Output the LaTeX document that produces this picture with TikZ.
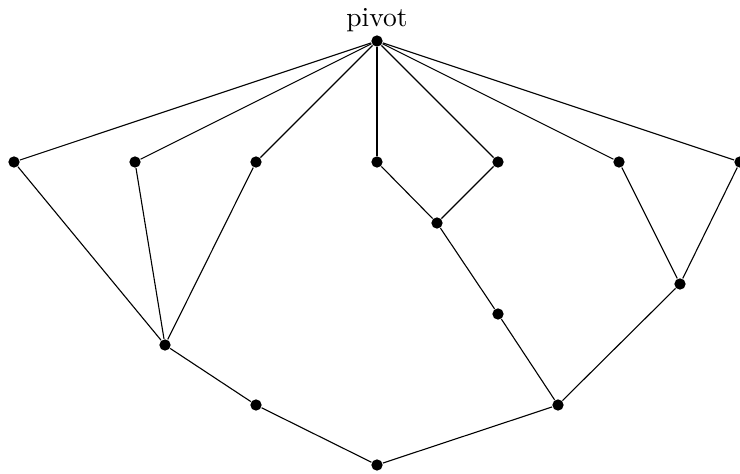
\documentclass[tikz,border=0pt]{standalone}
\begin{document}
\begin{tikzpicture}[x=0.363pt,y=-0.363pt,
  dot/.style={circle,fill=black,inner sep=0pt,minimum size=4.1pt},
  edge/.style={line width=0.4pt}]
\useasboundingbox (0,0) rectangle (740,474);
\node[dot,label={[inner sep=1pt]above:pivot}] (p) at (377,41) {};
\node[dot] (t1) at (14,162) {};
\node[dot] (t2) at (135,162) {};
\node[dot] (t3) at (256,162) {};
\node[dot] (t4) at (377,162) {};
\node[dot] (t5) at (498,162) {};
\node[dot] (t6) at (619,162) {};
\node[dot] (t7) at (740,162) {};
\node[dot] (m1) at (437,223) {};
\node[dot] (r1) at (680,284) {};
\node[dot] (m2) at (498,314) {};
\node[dot] (l1) at (165,345) {};
\node[dot] (l2) at (256,405) {};
\node[dot] (r2) at (558,405) {};
\node[dot] (b) at (377,465) {};
\foreach \t in {t1,t2,t3,t4,t5,t6,t7} \draw[edge] (p) -- (\t);
\draw[edge] (t1) -- (l1);
\draw[edge] (t2) -- (l1);
\draw[edge] (t3) -- (l1);
\draw[edge] (t4) -- (m1);
\draw[edge] (t5) -- (m1);
\draw[edge] (m1) -- (m2);
\draw[edge] (m2) -- (r2);
\draw[edge] (t6) -- (r1);
\draw[edge] (t7) -- (r1);
\draw[edge] (r1) -- (r2);
\draw[edge] (l1) -- (l2);
\draw[edge] (l2) -- (b);
\draw[edge] (b) -- (r2);
\end{tikzpicture}
\end{document}
